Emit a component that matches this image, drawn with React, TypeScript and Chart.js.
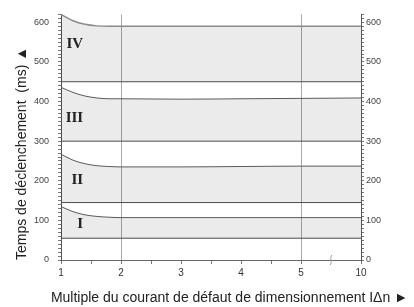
import React, { useEffect, useRef } from 'react';
import { Chart, registerables } from 'chart.js';

Chart.register(...registerables);

// ---- data ----
const multiples = [1, 1.2, 1.4, 1.6, 1.8, 2, 3, 4, 5, 10];
const bandITop = [135, 122, 114, 110, 108, 107, 107, 107, 107, 107];
const bandIITop = [267, 252, 243, 238, 236, 235, 235, 236, 237, 237];
const bandIIITop = [436, 423, 414, 409, 407, 407, 406, 407, 408, 409];
const bandIVTop = [620, 604, 595, 591, 590, 590, 590, 590, 590, 590];
const bandBottoms = [55, 145, 300, 450];
const bandNames = ['I', 'II', 'III', 'IV'];
const labelMultiple = 1.37;
const labelTimes = [90, 201, 359, 544];
const xTickMultiples = [1, 2, 3, 4, 5, 10];
const gridMultiples = [2, 5];
const breakMultiple = 7.5;
const yMin = 0;
const yMax = 620;
const yTitle = 'Temps de déclenchement  (ms) ▲';
const xTitle = 'Multiple du courant de défaut de dimensionnement IΔn ►';

// broken axis: 1..5 linear, then 5..10 squeezed into one unit
function toPos(m: number): number {
  return m <= 5 ? m - 1 : 4 + (m - 5) / 5;
}

const tops = [bandITop, bandIITop, bandIIITop, bandIVTop];
const FILL = 'rgba(0,0,0,0.078)';

function buildDatasets() {
  const ds: any[] = [];
  tops.forEach((top, i) => {
    ds.push({
      label: bandNames[i] + ' min',
      data: multiples.map((m) => ({ x: toPos(m), y: bandBottoms[i] })),
      borderColor: '#4d4d4d',
      borderWidth: 1,
      pointRadius: 0,
      fill: false,
      clip: 4,
    });
    ds.push({
      label: bandNames[i] + ' max',
      data: multiples.map((m, k) => ({ x: toPos(m), y: top[k] })),
      borderColor: i === 3 ? '#8a8a8a' : '#5a5a5a',
      borderWidth: i === 3 ? 1.4 : 1,
      pointRadius: 0,
      cubicInterpolationMode: 'monotone',
      fill: '-1',
      backgroundColor: FILL,
      clip: 4,
    });
  });
  return ds;
}

const overlayPlugin = {
  id: 'overlay',
  afterDatasetsDraw(chart: any) {
    const { ctx, scales } = chart;
    const x = scales.x;
    const y = scales.y;
    ctx.save();
    ctx.font = 'bold 15px "Liberation Serif", "DejaVu Serif", serif';
    ctx.fillStyle = '#222';
    ctx.textAlign = 'right';
    ctx.textBaseline = 'middle';
    bandNames.forEach((n, i) => {
      ctx.fillText(n, x.getPixelForValue(toPos(labelMultiple)), y.getPixelForValue(labelTimes[i]));
    });
    // axis break mark
    const bx = x.getPixelForValue(toPos(breakMultiple));
    const by = y.getPixelForValue(yMin);
    ctx.strokeStyle = '#999';
    ctx.lineWidth = 1;
    ctx.beginPath();
    ctx.moveTo(bx - 1, by + 5);
    ctx.bezierCurveTo(bx + 2, by + 2, bx - 2, by - 2, bx + 1, by - 5);
    ctx.stroke();
    ctx.restore();
  },
};

export default function App() {
  const ref = useRef<HTMLCanvasElement>(null);

  useEffect(() => {
    Chart.defaults.font.family = '"Liberation Sans", Arial, sans-serif';
    const yTicks = {
      stepSize: 10,
      autoSkip: false,
      font: { size: 9 },
      color: '#444',
      callback: (v: any) => (Math.round(v) % 100 === 0 ? String(Math.round(v)) : ''),
    };
    const chart = new Chart(ref.current as HTMLCanvasElement, {
      type: 'line',
      data: { datasets: buildDatasets() },
      plugins: [overlayPlugin],
      options: {
        responsive: false,
        animation: false,
        events: [],
        layout: { padding: { left: 0, right: 6, top: 14, bottom: 0 } },
        plugins: {
          legend: { display: false },
          tooltip: { enabled: false },
          title: {
            display: true,
            text: xTitle,
            position: 'bottom',
            align: 'end',
            color: '#222',
            font: { size: 14, weight: 'normal' },
            padding: { top: 4, bottom: 0 },
          },
        },
        scales: {
          x: {
            type: 'linear',
            min: toPos(1),
            max: toPos(10),
            afterFit: (s: any) => {
              s.height = 26.2;
            },
            ticks: {
              stepSize: 0.5,
              autoSkip: false,
              maxRotation: 0,
              padding: 3,
              font: { size: 10 },
              color: '#333',
              callback: (v: any) => {
                const m = xTickMultiples.find((mm) => Math.abs(toPos(mm) - v) < 1e-6);
                return m === undefined ? '' : String(m);
              },
            },
            grid: {
              drawOnChartArea: true,
              tickLength: 4,
              color: (c: any) =>
                gridMultiples.some((g) => c.tick && Math.abs(toPos(g) - c.tick.value) < 1e-6) ? '#a8a8a8' : 'transparent',
              tickColor: (c: any) =>
                c.tick && Math.abs(toPos(breakMultiple) - c.tick.value) < 1e-6 ? 'transparent' : '#777',
            },
            border: { color: '#666', width: 1 },
          },
          y: {
            type: 'linear',
            position: 'left',
            min: yMin,
            max: yMax,
            afterFit: (s: any) => {
              s.width = 61;
            },
            ticks: { ...yTicks, padding: 9 },
            grid: { drawOnChartArea: false, tickLength: 3, color: '#777' },
            border: { color: '#555', width: 1 },
            title: {
              display: true,
              text: yTitle,
              align: 'start',
              color: '#222',
              font: { size: 14 },
              padding: { top: 14, bottom: 0 },
            },
          },
          y2: {
            type: 'linear',
            position: 'right',
            min: yMin,
            max: yMax,
            afterFit: (s: any) => {
              s.width = 47;
            },
            ticks: { ...yTicks, padding: 2 },
            grid: { drawOnChartArea: false, tickLength: 3, color: '#777' },
            border: { color: '#555', width: 1 },
          },
        },
      } as any,
    });
    return () => chart.destroy();
  }, []);

  return (
    <div style={{ position: 'absolute', left: 0, top: 0, width: 414, height: 307, background: '#fff' }}>
      <canvas ref={ref} width={414} height={307} style={{ display: 'block' }} />
    </div>
  );
}
